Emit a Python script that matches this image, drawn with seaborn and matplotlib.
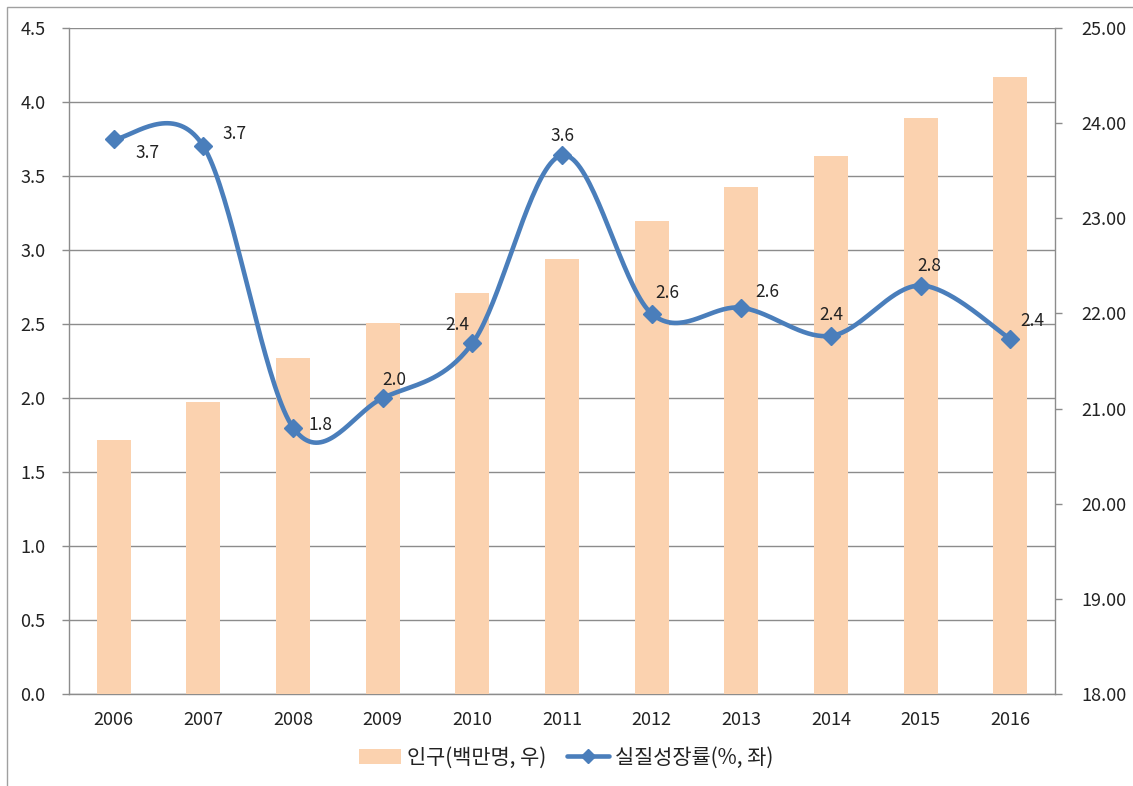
import numpy as np
import matplotlib
matplotlib.use("Agg")
import matplotlib.pyplot as plt
import seaborn as sns
import pandas as pd
from matplotlib.lines import Line2D
from matplotlib.patches import Patch, Rectangle

years = ["2006", "2007", "2008", "2009", "2010", "2011", "2012", "2013", "2014", "2015", "2016"]
population = [20.67, 21.07, 21.53, 21.90, 22.21, 22.57, 22.97, 23.33, 23.65, 24.05, 24.49]
growth = [3.75, 3.70, 1.80, 2.00, 2.37, 3.64, 2.57, 2.61, 2.42, 2.76, 2.40]
growth_labels = ["3.7", "3.7", "1.8", "2.0", "2.4", "3.6", "2.6", "2.6", "2.4", "2.8", "2.4"]
label_offsets = [(24, -10), (22, 9), (20, 2), (8, 13), (-11, 13), (0, 14), (11, 15), (19, 11), (0, 15), (6, 14), (16, 13)]

pop_name = "인구(백만명, 우)"
growth_name = "실질성장률(%, 좌)"

sns.set_theme(style="white")
plt.rcParams["font.family"] = ["Noto Sans CJK KR", "DejaVu Sans"]

BAR = "#FBD2AF"
LINE = "#4A7EBB"
GRID = "#8C8C8C"
TXT = "#222222"

fig = plt.figure(figsize=(11.33, 7.86), dpi=100)
ax = fig.add_axes([0.0609, 0.117, 0.8703, 0.8474])
ax2 = ax.twinx()
ax3 = ax.twinx()

# Left axis with gridlines
ax.set_ylim(0, 4.5)
ax.set_yticks(np.arange(0, 4.51, 0.5))
ax.set_yticklabels([f"{v:.1f}" for v in np.arange(0, 4.51, 0.5)])
ax.yaxis.grid(True, color=GRID, linewidth=1.0)
ax.set_axisbelow(True)

# Bars on right axis
df = pd.DataFrame({"year": years, "pop": population})
sns.barplot(data=df, x="year", y="pop", ax=ax2, color=BAR, width=0.38,
            saturation=1, edgecolor="none")
ax2.set_ylim(18, 25)
ax2.set_yticks(np.arange(18, 25.01, 1))
ax2.set_yticklabels([f"{v:.2f}" for v in np.arange(18, 25.01, 1)])
ax2.set_xlabel("")
ax2.set_ylabel("")

# Smoothed line (Catmull-Rom style Bezier like Excel smoothing)
x = np.arange(len(years), dtype=float)
y = np.array(growth, dtype=float)
xs, ys = [], []
t = np.linspace(0, 1, 40)
n = len(x)
for i in range(n - 1):
    p0 = np.array([x[max(i - 1, 0)], y[max(i - 1, 0)]])
    p1 = np.array([x[i], y[i]])
    p2 = np.array([x[i + 1], y[i + 1]])
    p3 = np.array([x[min(i + 2, n - 1)], y[min(i + 2, n - 1)]])
    c1 = p1 + (p2 - p0) / 6.0
    c2 = p2 - (p3 - p1) / 6.0
    b = ((1 - t) ** 3)[:, None] * p1 + (3 * (1 - t) ** 2 * t)[:, None] * c1 \
        + (3 * (1 - t) * t ** 2)[:, None] * c2 + (t ** 3)[:, None] * p2
    xs.extend(b[:, 0])
    ys.extend(b[:, 1])
ax3.plot(xs, ys, color=LINE, linewidth=3.3, solid_capstyle="round", zorder=3)
ax3.plot(x, y, linestyle="none", marker="D", markersize=9, color=LINE, zorder=4)
ax3.set_ylim(0, 4.5)
ax3.set_yticks([])
for sp in ax3.spines.values():
    sp.set_visible(False)
for xi, yi, lab, off in zip(x, y, growth_labels, label_offsets):
    ax3.annotate(lab, (xi, yi), xytext=off, textcoords="offset points",
                 ha="center", va="center", fontsize=12.5, color=TXT, zorder=5)

# Layering
ax.set_zorder(1)
ax2.set_zorder(2)
ax3.set_zorder(3)
ax2.patch.set_visible(False)
ax3.patch.set_visible(False)

for a in (ax, ax2, ax3):
    a.set_xlim(-0.5, len(years) - 0.5)

# X ticks
ax.set_xticks(x)
ax.set_xticklabels(years)
ax.set_xticks(np.arange(-0.5, len(years), 1.0), minor=True)
ax.tick_params(axis="x", which="major", length=0, pad=12, labelsize=13, colors=TXT)
ax.tick_params(axis="x", which="minor", length=5, width=1, color=GRID, direction="out")
ax.tick_params(axis="y", length=5, width=1, color=GRID, direction="out", pad=12,
               labelsize=13, labelcolor=TXT, left=True)
ax2.tick_params(axis="y", length=5, width=1, color=GRID, direction="out", pad=14,
                labelsize=13, labelcolor=TXT, right=True)
ax2.tick_params(axis="x", length=0, labelbottom=False)
ax3.tick_params(axis="x", length=0, labelbottom=False, which="both")

for a in (ax, ax2):
    a.spines["top"].set_visible(False)
    for s in ("left", "right", "bottom"):
        a.spines[s].set_color(GRID)
        a.spines[s].set_linewidth(1.0)
ax.spines["right"].set_visible(False)
ax2.spines["left"].set_visible(False)
ax2.spines["bottom"].set_visible(False)

# Legend
handles = [
    Patch(facecolor=BAR, edgecolor="none"),
    Line2D([0], [0], color=LINE, linewidth=3.3, marker="D", markersize=7),
]
fig.legend(handles, [pop_name, growth_name], loc="center", bbox_to_anchor=(0.5, 0.036),
           ncol=2, frameon=False, fontsize=15, handlelength=2.0, handletextpad=0.3,
           columnspacing=1.0, labelcolor=TXT)

# Outer frame
fig.patches.append(Rectangle((0.0062, -0.01), 1.2, 1.0011, transform=fig.transFigure,
                             fill=False, edgecolor="#A0A0A0", linewidth=1.0))

fig.savefig("out.png", dpi=100)
